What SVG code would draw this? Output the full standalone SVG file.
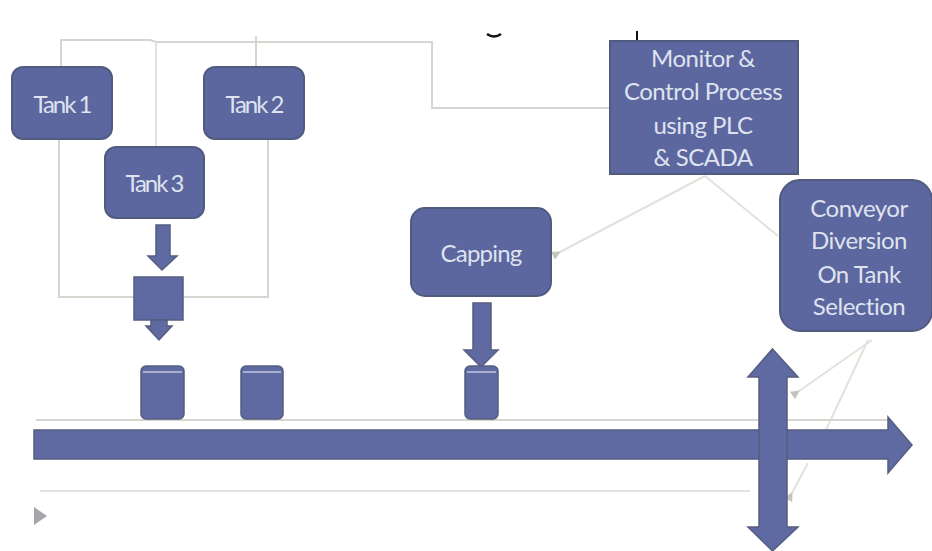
<svg xmlns="http://www.w3.org/2000/svg" width="932" height="551" viewBox="0 0 932 551">
<defs>
<marker id="tip" markerWidth="9" markerHeight="9" refX="1" refY="4.5" orient="auto-start-reverse" markerUnits="userSpaceOnUse"><path d="M9 0L0 4.5L9 9z" fill="#c4c4bc"/></marker>
</defs>
<style>
.box{fill:#5c679f;stroke:#515a7f;stroke-width:2}
.shape{fill:#5f6aa3;stroke:#555e80;stroke-width:1.5}
.wire{fill:none;stroke:#d6d6d0;stroke-width:2}
.soft{fill:none;stroke:#e2e2dc;stroke-width:2}
text{font-family:Lato,"Liberation Sans",sans-serif;fill:#dfe3ef;text-anchor:middle}
.t1{font-size:24px;letter-spacing:-2px}
.t3{font-size:24px;letter-spacing:-.8px}
.t2{font-size:24px;letter-spacing:-.5px}
</style>
<rect width="932" height="551" fill="#fff"/>
<g id="connectors">
<path class="wire" d="M61 67V40H150L156 42H432V108H610"/>
<path class="soft" d="M156 42V147"/>
<path class="wire" d="M256 36V67"/>
<path class="wire" d="M59 139V297H135"/>
<path class="wire" d="M268 139V297H183"/>
<path class="soft" d="M705 176L560 252" marker-end="url(#tip)"/>
<path class="soft" d="M705 176L778 236"/>
<path class="soft" d="M872 340L799 391" marker-end="url(#tip)"/>
<path class="soft" d="M868 340L826 430"/>
<path class="soft" d="M808 463L792 493" marker-end="url(#tip)"/>
<path class="wire" d="M36 420H888"/>
<path class="soft" d="M40 491H750"/>
</g>
<g id="tank-1"><rect class="box" x="12" y="67" width="100" height="72" rx="11"/><text class="t1" x="62" y="113">Tank 1</text></g>
<g id="tank-2"><rect class="box" x="204" y="67" width="100" height="72" rx="11"/><text class="t1" x="254" y="113">Tank 2</text></g>
<g id="tank-3"><rect class="box" x="105" y="147" width="99" height="71" rx="11"/><text class="t1" x="154" y="192">Tank 3</text></g>
<g id="capping"><rect class="box" x="411" y="208" width="140" height="88" rx="14"/><text class="t3" x="481" y="262">Capping</text></g>
<g id="monitor"><rect class="box" x="610" y="41" width="188" height="133"/>
<text class="t2"><tspan x="703" y="67">Monitor &amp;</tspan><tspan x="703" y="100">Control Process</tspan><tspan x="703" y="134">using PLC</tspan><tspan x="703" y="166">&amp; SCADA</tspan></text></g>
<g id="conveyor-diversion"><rect class="box" x="780" y="180" width="152" height="151" rx="20"/>
<text class="t2"><tspan x="859" y="217">Conveyor</tspan><tspan x="859" y="249">Diversion</tspan><tspan x="859" y="283">On Tank</tspan><tspan x="859" y="315">Selection</tspan></text></g>
<g id="arrow-tank3"><path class="shape" d="M156 225H170V256H177L162 270L148 256H156z"/></g>
<g id="valve"><rect class="shape" x="134" y="277" width="49" height="43"/></g>
<g id="arrow-valve"><path class="shape" d="M151 320H167V326H172L159 340L146 326H151z"/></g>
<g id="arrow-capping"><path class="shape" d="M473 303H491V350H498L481 367L464 350H473z"/></g>
<g id="bottle-1"><rect class="shape" x="141" y="366" width="43" height="53" rx="5"/><path d="M143 372H182" stroke="#a9afd0" stroke-width="2"/></g>
<g id="bottle-2"><rect class="shape" x="241" y="366" width="42" height="53" rx="5"/><path d="M243 372H281" stroke="#a9afd0" stroke-width="2"/></g>
<g id="bottle-3"><rect class="shape" x="465" y="366" width="33" height="53" rx="5"/><path d="M467 372H496" stroke="#a9afd0" stroke-width="2"/></g>
<g id="main-conveyor"><path class="shape" d="M34 430H888V417L912 445L888 473V459H34z"/></g>
<g id="diverter"><path class="shape" d="M772.500 349L798 377H787V527H798L772.500 551L748 527H759V377H748z"/></g>
<g id="small-arrow"><path d="M34 507L47 516L34 525z" fill="#a6a6aa"/></g>
<g id="marks"><path d="M487 34Q494 39 501 34" fill="none" stroke="#111" stroke-width="2.500"/><path d="M637 31V40" stroke="#111" stroke-width="2"/></g>
</svg>
